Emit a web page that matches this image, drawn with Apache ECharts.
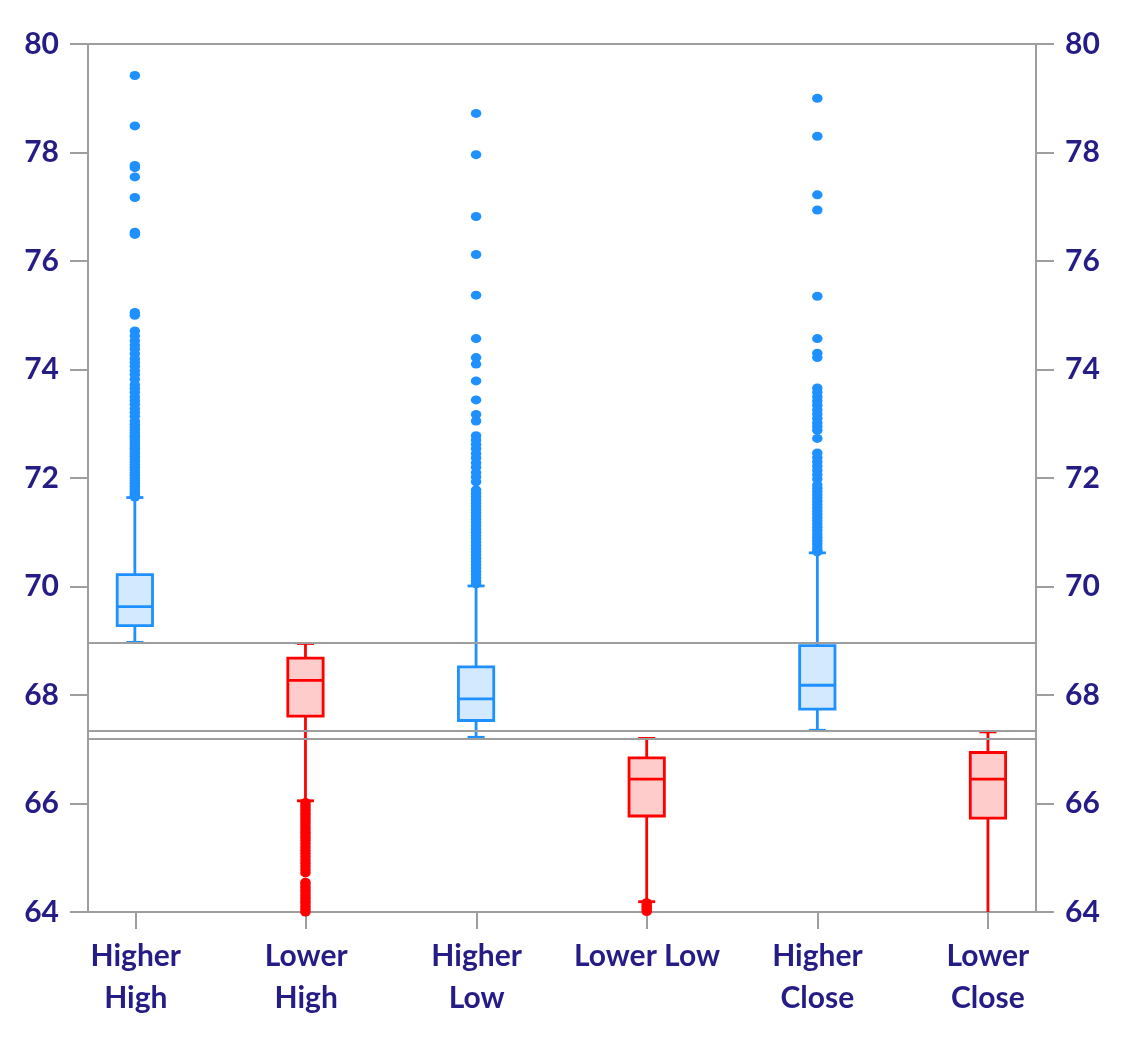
<!DOCTYPE html>
<html><head><meta charset="utf-8">
<script src="https://cdn.jsdelivr.net/npm/echarts@6/dist/echarts.min.js"></script>
<style>html,body{margin:0;padding:0;background:#fff}#chart{width:1125px;height:1050px}</style>
</head><body><div id="chart"></div>
<script>
const categories = ['Higher\nHigh', 'Lower\nHigh', 'Higher\nLow', 'Lower Low', 'Higher\nClose', 'Lower\nClose'];
const lowWhisker  = [68.97, 66.05, 67.22, 64.19, 67.35, 63.50];
const q1Values    = [69.28, 67.61, 67.53, 65.77, 67.74, 65.73];
const medians     = [69.63, 68.27, 67.93, 66.45, 68.18, 66.45];
const q3Values    = [70.22, 68.68, 68.52, 66.84, 68.91, 66.94];
const highWhisker = [71.64, 68.95, 70.01, 67.20, 70.62, 67.32];
const yTicks = [64, 66, 68, 70, 72, 74, 76, 78, 80];
const refLines = [68.96, 67.34, 67.20];

const hhOutliers = [79.42, 78.49, 77.76, 77.72, 77.55, 77.17, 76.53, 76.49, 75.05, 75.00,
  74.71, 74.62, 74.53, 74.45, 74.38, 74.29, 74.20, 74.13, 74.06, 73.98, 73.91, 73.82, 73.72,
  73.65, 73.58, 73.50, 73.43, 73.36, 73.28, 73.21, 73.14, 73.05, 72.99, 72.94, 72.89, 72.84,
  72.79, 72.75, 72.70, 72.65, 72.60, 72.55, 72.50, 72.45, 72.40, 72.35, 72.30, 72.25, 72.20,
  72.15, 72.10, 72.05, 72.00, 71.95, 71.90, 71.85, 71.80, 71.76, 71.72, 71.68, 71.65];
const lhOutliers = [66.02, 65.97, 65.92, 65.87, 65.82, 65.77, 65.72, 65.67, 65.62, 65.57,
  65.52, 65.47, 65.42, 65.37, 65.32, 65.26, 65.20, 65.14, 65.08, 65.02, 64.96, 64.90, 64.84,
  64.78, 64.72, 64.55, 64.50, 64.45, 64.40, 64.35, 64.30, 64.25, 64.20, 64.15, 64.10, 64.05,
  64.00, 63.95];
const hlOutliers = [78.72, 77.96, 76.82, 76.12, 75.37, 74.57, 74.22, 74.10, 73.79, 73.44,
  73.17, 73.05, 72.78, 72.70, 72.62, 72.54, 72.45, 72.37, 72.28, 72.20, 72.10, 72.02, 71.93,
  71.78, 71.72, 71.66, 71.60, 71.54, 71.48, 71.42, 71.36, 71.30, 71.24, 71.18, 71.12, 71.06,
  71.00, 70.94, 70.88, 70.82, 70.76, 70.70, 70.64, 70.58, 70.52, 70.46, 70.40, 70.34, 70.28,
  70.22, 70.16, 70.10, 70.05];
const llOutliers = [64.17, 64.13, 64.09, 64.05, 64.01, 63.97];
const hcOutliers = [79.00, 78.30, 77.22, 76.94, 75.35, 74.57, 74.30, 74.22, 73.66, 73.58,
  73.50, 73.42, 73.34, 73.26, 73.18, 73.10, 73.02, 72.95, 72.88, 72.73, 72.46, 72.38, 72.30,
  72.22, 72.14, 72.06, 71.98, 71.87, 71.81, 71.75, 71.69, 71.63, 71.57, 71.51, 71.45, 71.39,
  71.33, 71.27, 71.21, 71.15, 71.09, 71.03, 70.97, 70.91, 70.85, 70.79, 70.73, 70.67, 70.64];
const lcOutliers = [];

const outlierSets = [hhOutliers, lhOutliers, hlOutliers, llOutliers, hcOutliers, lcOutliers];

const BLUE = '#1E90FF', RED = '#FF0000';
const BLUE_FILL = '#D2E9FF', RED_FILL = '#FFCCCC';
const GRAY = '#9E9E9E';
const TXT = '#261C85';
const LW = 2.8;
const isHigher = i => categories[i].startsWith('Higher');

const boxData = categories.map((c, i) => [i, lowWhisker[i], q1Values[i], medians[i], q3Values[i], highWhisker[i]]);
const blueOut = [], redOut = [];
outlierSets.forEach((arr, i) => arr.forEach(v => (isHigher(i) ? blueOut : redOut).push([i, v])));

function renderBox(params, api) {
  const i = api.value(0);
  const lo = api.coord([i, api.value(1)]);
  const b1 = api.coord([i, api.value(2)]);
  const md = api.coord([i, api.value(3)]);
  const b3 = api.coord([i, api.value(4)]);
  const hi = api.coord([i, api.value(5)]);
  const bw = api.size([0.207, 0])[0];
  const cw = api.size([0.1, 0])[0];
  const x = lo[0];
  const up = isHigher(i);
  const stroke = up ? BLUE : RED;
  const fill = up ? BLUE_FILL : RED_FILL;
  const ls = { stroke: stroke, lineWidth: LW };
  return {
    type: 'group', children: [
      { type: 'line', shape: { x1: x, y1: b3[1], x2: x, y2: hi[1] }, style: ls },
      { type: 'line', shape: { x1: x, y1: b1[1], x2: x, y2: lo[1] }, style: ls },
      { type: 'line', shape: { x1: x - cw / 2, y1: hi[1], x2: x + cw / 2, y2: hi[1] }, style: ls },
      { type: 'line', shape: { x1: x - cw / 2, y1: lo[1], x2: x + cw / 2, y2: lo[1] }, style: ls },
      { type: 'rect', shape: { x: x - bw / 2, y: b3[1], width: bw, height: b1[1] - b3[1] }, style: { fill: fill, stroke: stroke, lineWidth: LW } },
      { type: 'line', shape: { x1: x - bw / 2, y1: md[1], x2: x + bw / 2, y2: md[1] }, style: ls }
    ]
  };
}

const labelStyle = { color: TXT, fontFamily: 'Lato', fontWeight: 'bold', fontSize: 30 };
function yAxisDef(pos) {
  return {
    gridIndex: 0, type: 'value', position: pos, min: 64, max: 80, interval: 2,
    axisLine: { show: true, onZero: false, lineStyle: { color: GRAY, width: 2 } },
    axisTick: { show: true, length: 18, lineStyle: { color: GRAY, width: 2 } },
    splitLine: { show: false },
    axisLabel: Object.assign({ margin: 29, padding: [0, 0, 10, 0] }, labelStyle)
  };
}

const chart = echarts.init(document.getElementById('chart'));
chart.setOption({
  animation: false,
  backgroundColor: '#fff',
  grid: [
    { left: 88, right: 89, top: 44, bottom: 138, show: true, borderColor: GRAY, borderWidth: 2, backgroundColor: 'transparent' },
    { left: 50.6, right: 52, top: 44, bottom: 138, show: false }
  ],
  xAxis: [
    {
      gridIndex: 0, type: 'value', min: -0.2746, max: 5.2817, show: false,
      axisLine: { show: false, onZero: false }, axisTick: { show: false }, axisLabel: { show: false },
      splitLine: { show: false }
    },
    {
      gridIndex: 1, type: 'category', data: categories, boundaryGap: true,
      axisLine: { show: false, onZero: false },
      axisTick: { show: true, alignWithLabel: true, length: 17, lineStyle: { color: GRAY, width: 2 } },
      splitLine: { show: false },
      axisLabel: Object.assign({ margin: 23, lineHeight: 42, interval: 0 }, labelStyle)
    }
  ],
  yAxis: [
    yAxisDef('left'),
    yAxisDef('right'),
    { gridIndex: 1, type: 'value', min: 64, max: 80, show: false, splitLine: { show: false } }
  ],
  series: [
    {
      type: 'custom', renderItem: renderBox, data: boxData, clip: true, z: 2,
      xAxisIndex: 0, yAxisIndex: 0,
      encode: { x: 0, y: [1, 2, 3, 4, 5] }
    },
    {
      type: 'scatter', data: blueOut, symbol: 'circle', symbolSize: [10.5, 9], z: 3,
      xAxisIndex: 0, yAxisIndex: 0,
      itemStyle: { color: BLUE, opacity: 1 }, clip: true
    },
    {
      type: 'scatter', data: redOut, symbol: 'circle', symbolSize: [10.5, 9], z: 3,
      xAxisIndex: 0, yAxisIndex: 0,
      itemStyle: { color: RED, opacity: 1 }, clip: true,
      markLine: {
        silent: true, symbol: ['none', 'none'], label: { show: false },
        lineStyle: { color: GRAY, width: 2, type: 'solid' },
        data: refLines.map(v => ({ yAxis: v }))
      }
    }
  ]
});
</script></body></html>
